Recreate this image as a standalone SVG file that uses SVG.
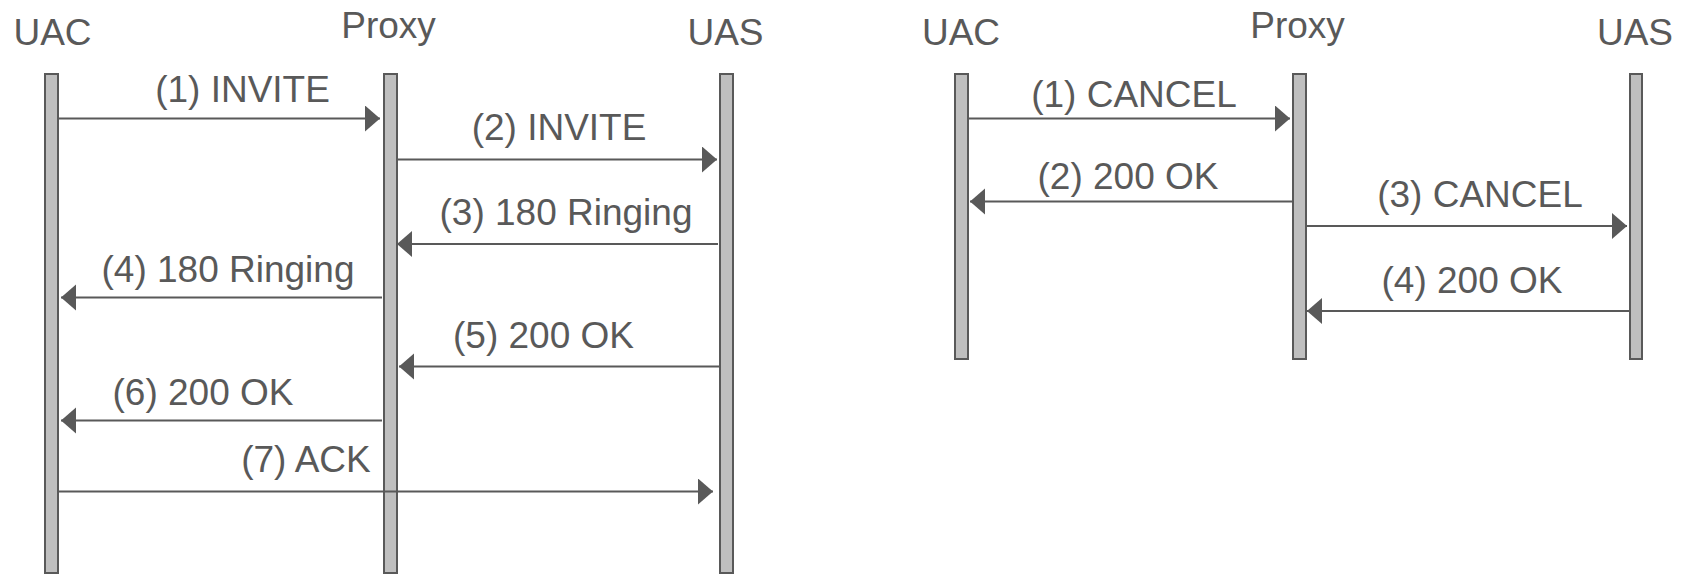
<svg xmlns="http://www.w3.org/2000/svg" width="1683" height="575" viewBox="0 0 1683 575">
<style>
text{font-family:"Liberation Sans",Arial,sans-serif;font-size:37px;fill:#595959;text-anchor:middle}
.life{fill:#bfbfbf;stroke:#595959;stroke-width:2}
.msg{stroke:#595959;stroke-width:2;fill:none;marker-end:url(#ah)}
</style>
<defs>
<marker id="ah" markerUnits="userSpaceOnUse" markerWidth="16" markerHeight="27" refX="15" refY="13" orient="auto" viewBox="0 0 16 27">
<path d="M0,0 L15,13 L0,26 Z" fill="#595959"/>
</marker>
</defs>
<g id="left-uac"><rect class="life" x="45" y="74" width="13" height="499"/><text x="52.5" y="45">UAC</text></g>
<g id="left-proxy"><rect class="life" x="384" y="74" width="13" height="499"/><text x="388.5" y="38">Proxy</text></g>
<g id="left-uas"><rect class="life" x="720" y="74" width="13" height="499"/><text x="725.5" y="45">UAS</text></g>
<g id="right-uac"><rect class="life" x="955" y="74" width="13" height="285"/><text x="961" y="45">UAC</text></g>
<g id="right-proxy"><rect class="life" x="1293" y="74" width="13" height="285"/><text x="1297.5" y="38">Proxy</text></g>
<g id="right-uas"><rect class="life" x="1630" y="74" width="12" height="285"/><text x="1635" y="45">UAS</text></g>
<g id="connectors">
<path class="msg" d="M59,118.5 H380"/><text x="242.5" y="102">(1) INVITE</text>
<path class="msg" d="M398,159.5 H717"/><text x="559" y="140">(2) INVITE</text>
<path class="msg" d="M718,244 H397"/><text x="566" y="225">(3) 180 Ringing</text>
<path class="msg" d="M382,297.5 H61"/><text x="228" y="282">(4) 180 Ringing</text>
<path class="msg" d="M720,366.5 H399"/><text x="543.5" y="348">(5) 200 OK</text>
<path class="msg" d="M382,420.5 H61"/><text x="203" y="405">(6) 200 OK</text>
<path class="msg" d="M58,491.5 H713"/><text x="306" y="472">(7) ACK</text>
<path class="msg" d="M969,118.5 H1290"/><text x="1134" y="107">(1) CANCEL</text>
<path class="msg" d="M1292,201.5 H970"/><text x="1128" y="189">(2) 200 OK</text>
<path class="msg" d="M1307,226 H1627"/><text x="1480" y="207">(3) CANCEL</text>
<path class="msg" d="M1629,311 H1307"/><text x="1472" y="293">(4) 200 OK</text>
</g>
</svg>
